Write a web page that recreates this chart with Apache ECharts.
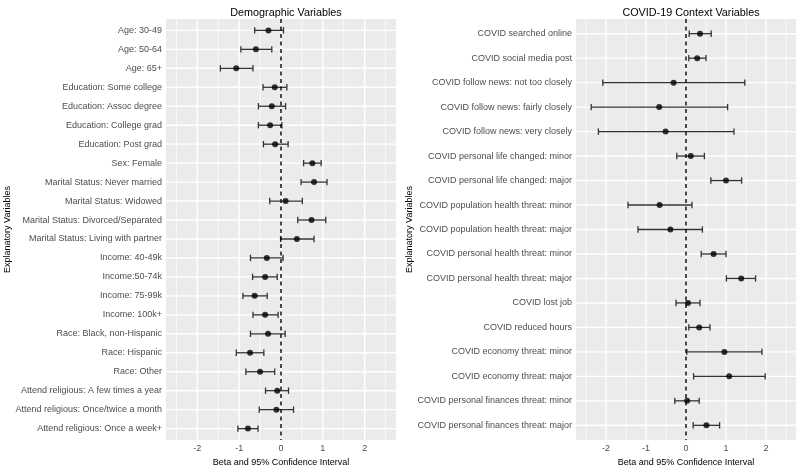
<!DOCTYPE html>
<html>
<head>
<meta charset="utf-8">
<script src="https://cdn.jsdelivr.net/npm/echarts@6/dist/echarts.min.js"></script>
<style>
html,body{margin:0;padding:0;background:#fff;}
#chart{width:800px;height:467px;}
</style>
</head>
<body>
<div id="chart"></div>
<script>
const demoCats = ["Age: 30-49","Age: 50-64","Age: 65+","Education: Some college","Education: Assoc degree","Education: College grad","Education: Post grad","Sex: Female","Marital Status: Never married","Marital Status: Widowed","Marital Status: Divorced/Separated","Marital Status: Living with partner","Income: 40-49k","Income:50-74k","Income: 75-99k","Income: 100k+","Race: Black, non-Hispanic","Race: Hispanic","Race: Other","Attend religious: A few times a year","Attend religious: Once/twice a month","Attend religious: Once a week+"];
const demoBeta = [-0.30,-0.60,-1.07,-0.15,-0.22,-0.26,-0.14,0.75,0.79,0.11,0.73,0.38,-0.34,-0.38,-0.63,-0.38,-0.31,-0.74,-0.50,-0.09,-0.11,-0.79];
const demoLo = [-0.63,-0.96,-1.45,-0.43,-0.54,-0.54,-0.42,0.54,0.48,-0.27,0.40,-0.01,-0.73,-0.68,-0.91,-0.67,-0.73,-1.07,-0.84,-0.37,-0.52,-1.03];
const demoHi = [0.06,-0.22,-0.67,0.14,0.11,0.02,0.17,0.96,1.10,0.51,1.07,0.79,0.05,-0.09,-0.33,-0.07,0.10,-0.41,-0.15,0.18,0.30,-0.55];

const covidCats = ["COVID searched online","COVID social media post","COVID follow news: not too closely","COVID follow news: fairly closely","COVID follow news: very closely","COVID personal life changed: minor","COVID personal life changed: major","COVID population health threat: minor","COVID population health threat: major","COVID personal health threat: minor","COVID personal health threat: major","COVID lost job","COVID reduced hours","COVID economy threat: minor","COVID economy threat: major","COVID personal finances threat: minor","COVID personal finances threat: major"];
const covidBeta = [0.35,0.28,-0.31,-0.67,-0.51,0.12,1.00,-0.66,-0.39,0.69,1.38,0.05,0.33,0.96,1.08,0.03,0.51];
const covidLo = [0.08,0.07,-2.08,-2.37,-2.19,-0.23,0.62,-1.45,-1.20,0.38,1.01,-0.25,0.07,0.02,0.19,-0.28,0.18];
const covidHi = [0.63,0.50,1.47,1.04,1.20,0.46,1.39,0.15,0.41,1.00,1.74,0.35,0.60,1.90,1.98,0.33,0.84];

const xTicks = [-2,-1,0,1,2];
const xMinor = [-2.5,-1.5,-0.5,0.5,1.5,2.5];
const xMin = -2.75, xMax = 2.75;

const FONT = 'Liberation Sans';
const panels = [
  {cats: demoCats, beta: demoBeta, lo: demoLo, hi: demoHi, title: 'Demographic Variables', left: 166, width: 230, nameGap: 151},
  {cats: covidCats, beta: covidBeta, lo: covidLo, hi: covidHi, title: 'COVID-19 Context Variables', left: 576, width: 220, nameGap: 161}
];

const grids = [], xAxes = [], yAxes = [], series = [], titles = [];
panels.forEach((p, k) => {
  const n = p.cats.length;
  const yMin = -0.6, yMax = n - 1 + 0.6;
  grids.push({left: p.left, top: 19, width: p.width, height: 421, show: false,
    containLabel: false, outerBoundsMode: 'none'});
  titles.push({text: p.title, left: p.left + p.width / 2, top: 3, textAlign: 'center',
    textStyle: {fontFamily: FONT, fontSize: 10.8, fontWeight: 'normal', color: '#000'}});
  xAxes.push({type: 'value', gridIndex: k, min: xMin, max: xMax,
    axisLine: {show: false}, splitLine: {show: false},
    axisTick: {show: true, customValues: xTicks, length: 3, lineStyle: {color: '#333', width: 1}},
    axisLabel: {customValues: xTicks, margin: 4, color: '#4D4D4D', fontFamily: FONT, fontSize: 9, formatter: v => String(v)},
    name: 'Beta and 95% Confidence Interval', nameLocation: 'middle', nameGap: 18,
    nameTextStyle: {fontFamily: FONT, fontSize: 9, color: '#000'}});
  const idx = p.cats.map((c, i) => i);
  yAxes.push({type: 'value', gridIndex: k, min: yMin, max: yMax, inverse: true,
    axisLine: {show: false}, splitLine: {show: false},
    axisTick: {show: true, customValues: idx, length: 3, lineStyle: {color: '#333', width: 1}},
    axisLabel: {customValues: idx, margin: 4, color: '#4D4D4D', fontFamily: FONT, fontSize: 9, formatter: v => p.cats[Math.round(v)] || ''},
    name: 'Explanatory Variables', nameLocation: 'middle', nameGap: p.nameGap, nameRotate: 90,
    nameTextStyle: {fontFamily: FONT, fontSize: 9, color: '#000'}});

  // panel background
  series.push({type: 'custom', xAxisIndex: k, yAxisIndex: k, silent: true, z: 1,
    data: [[xMin, xMax, yMin, yMax]], encode: {x: [0, 1], y: [2, 3]},
    renderItem: (params, api) => {
      const a = api.coord([api.value(0), api.value(2)]);
      const b = api.coord([api.value(1), api.value(3)]);
      return {type: 'rect', shape: {x: Math.min(a[0], b[0]), y: Math.min(a[1], b[1]),
        width: Math.abs(b[0] - a[0]), height: Math.abs(b[1] - a[1])}, style: {fill: '#EBEBEB'}};
    }});
  // grid lines: [x1, x2, y1, y2, width]
  const gData = xMinor.map(v => [v, v, yMin, yMax, 0.7])
    .concat(xTicks.map(v => [v, v, yMin, yMax, 1.4]))
    .concat(idx.map(i => [xMin, xMax, i, i, 1.4]));
  series.push({type: 'custom', xAxisIndex: k, yAxisIndex: k, silent: true, z: 2,
    data: gData, encode: {x: [0, 1], y: [2, 3]},
    renderItem: (params, api) => {
      const a = api.coord([api.value(0), api.value(2)]);
      const b = api.coord([api.value(1), api.value(3)]);
      return {type: 'line', shape: {x1: a[0], y1: a[1], x2: b[0], y2: b[1]},
        style: {stroke: '#FFFFFF', lineWidth: api.value(4)}};
    }});
  // error bars
  series.push({type: 'custom', xAxisIndex: k, yAxisIndex: k, silent: true, z: 4,
    data: idx.map(i => [p.lo[i], p.hi[i], i]), encode: {x: [0, 1], y: 2},
    renderItem: (params, api) => {
      const a = api.coord([api.value(0), api.value(2)]);
      const b = api.coord([api.value(1), api.value(2)]);
      const h = 3.2;
      const st = {stroke: '#333333', lineWidth: 1.3};
      return {type: 'group', children: [
        {type: 'line', shape: {x1: a[0], y1: a[1], x2: b[0], y2: b[1]}, style: st},
        {type: 'line', shape: {x1: a[0], y1: a[1] - h, x2: a[0], y2: a[1] + h}, style: st},
        {type: 'line', shape: {x1: b[0], y1: b[1] - h, x2: b[0], y2: b[1] + h}, style: st}
      ]};
    }});
  // dashed zero line
  series.push({type: 'custom', xAxisIndex: k, yAxisIndex: k, silent: true, z: 5,
    data: [[0, 0, yMin, yMax]], encode: {x: [0, 1], y: [2, 3]},
    renderItem: (params, api) => {
      const a = api.coord([api.value(0), api.value(2)]);
      const b = api.coord([api.value(1), api.value(3)]);
      return {type: 'line', shape: {x1: a[0], y1: a[1], x2: b[0], y2: b[1]},
        style: {stroke: '#000000', lineWidth: 1.4, lineDash: [4, 3.5]}};
    }});
  // points
  series.push({type: 'scatter', xAxisIndex: k, yAxisIndex: k, silent: true, z: 6,
    symbol: 'circle', symbolSize: 6, itemStyle: {color: '#000'},
    data: idx.map(i => [p.beta[i], i])});
});

const chart = echarts.init(document.getElementById('chart'), null, {renderer: 'canvas'});
chart.setOption({
  animation: false,
  backgroundColor: '#FFFFFF',
  title: titles,
  grid: grids,
  xAxis: xAxes,
  yAxis: yAxes,
  series: series
});
</script>
</body>
</html>
